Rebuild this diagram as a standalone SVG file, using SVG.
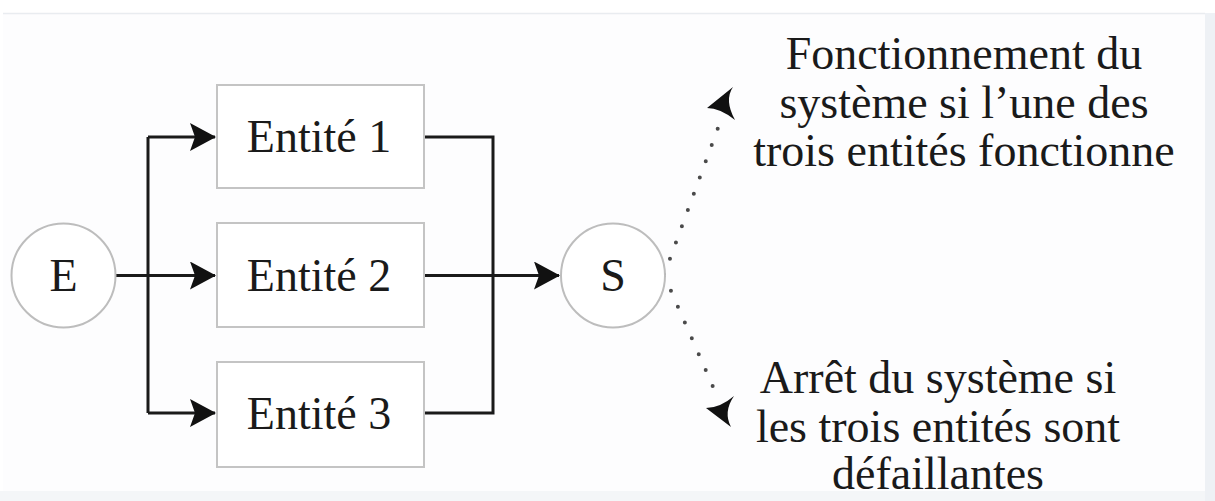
<svg xmlns="http://www.w3.org/2000/svg" width="1215" height="501" viewBox="0 0 1215 501">
  <style>
    .box { fill: #ffffff; stroke: #c4c4c4; stroke-width: 2; }
    .node { fill: #ffffff; stroke: #bdbdbd; stroke-width: 2; }
    .lbl { font-family: "Liberation Serif", "Times New Roman", serif; font-size: 46px; fill: #1a1a1a; text-anchor: middle; }
    .wire { fill: none; stroke: #1a1a1a; stroke-width: 3; }
    .dots { fill: none; stroke: #4a4a4a; stroke-width: 4; stroke-linecap: round; stroke-dasharray: 0 17.3; }
    .head { fill: #111111; }
  </style>
  <defs>
    <marker id="arrow" markerUnits="userSpaceOnUse" viewBox="0 0 26 28" markerWidth="26" markerHeight="28" refX="25" refY="14" orient="auto">
      <path d="M26,14 L0,0 L5,14 L0,28 Z" fill="#111111"/>
    </marker>
  </defs>

  <!-- page background with a faint frame -->
  <rect x="0" y="0" width="1215" height="501" fill="#ffffff"/>
  <rect x="3" y="13" width="1202" height="478" fill="#fdfdfe"/>
  <line x1="3" y1="13.5" x2="1205" y2="13.5" stroke="#e9ecf0" stroke-width="1.5"/>
  <rect x="1205" y="13" width="10" height="488" fill="#eef1f5"/>
  <rect x="0" y="491" width="1205" height="10" fill="#f4f6f8"/>

  <!-- connectors -->
  <g id="connectors">
    <path class="wire" d="M115,275.5 H148 M148,137 V413"/>
    <path class="wire" d="M148,137 H215" marker-end="url(#arrow)"/>
    <path class="wire" d="M148,275.5 H215" marker-end="url(#arrow)"/>
    <path class="wire" d="M148,413 H215" marker-end="url(#arrow)"/>
    <path class="wire" d="M424,137 H493 V413 H424"/>
    <path class="wire" d="M424,275.5 H559" marker-end="url(#arrow)"/>
    <path class="dots" d="M664,275 L718,128"/>
    <path class="dots" d="M664,275 L714,389"/>
    <path class="head" d="M707,108 L733,87 Q724,100 735,120 Q720,108 707,108 Z"/>
    <path class="head" d="M706,408 L731,427 Q723,412 734,396 Q720,408 706,408 Z"/>
  </g>

  <g id="node-E">
    <circle class="node" cx="63.5" cy="275.5" r="52"/>
    <text class="lbl" x="63.5" y="291">E</text>
  </g>

  <g id="node-entite1">
    <rect class="box" x="217" y="85" width="207" height="103"/>
    <text class="lbl" x="319" y="152">Entité 1</text>
  </g>

  <g id="node-entite2">
    <rect class="box" x="217" y="223" width="207" height="104"/>
    <text class="lbl" x="319" y="291">Entité 2</text>
  </g>

  <g id="node-entite3">
    <rect class="box" x="217" y="362" width="207" height="105"/>
    <text class="lbl" x="319" y="429">Entité 3</text>
  </g>

  <g id="node-S">
    <circle class="node" cx="613" cy="275.5" r="52"/>
    <text class="lbl" x="613" y="291">S</text>
  </g>

  <g id="note-fonctionnement">
    <text class="lbl" x="964" y="69">Fonctionnement du</text>
    <text class="lbl" x="964" y="117.5">système si l’une des</text>
    <text class="lbl" x="964" y="166">trois entités fonctionne</text>
  </g>

  <g id="note-arret">
    <text class="lbl" x="938" y="393">Arrêt du système si</text>
    <text class="lbl" x="938" y="441.5">les trois entités sont</text>
    <text class="lbl" x="938" y="489">défaillantes</text>
  </g>
</svg>
